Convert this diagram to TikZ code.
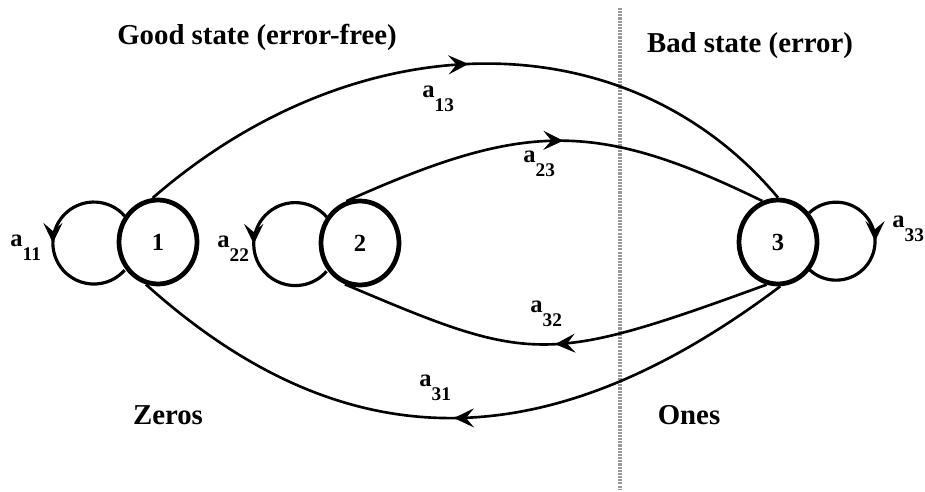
\documentclass[tikz,border=0pt]{standalone}
\usepackage{fontspec}
\setmainfont{Liberation Serif}
\usetikzlibrary{arrows.meta, decorations.markings, shapes.geometric}

\newcommand{\trn}[1]{a\raisebox{-0.28cm}{\fontsize{11}{13}\selectfont #1}}

\begin{document}
\begin{tikzpicture}[x=0.02cm, y=-0.02cm,
  >={Stealth[length=0.4cm, width=0.38cm, inset=0.16cm]},
  state/.style={draw, ellipse, line width=2.7pt, minimum width=1.56cm, minimum height=1.68cm, inner sep=0pt, font=\fontsize{14}{16}\selectfont\bfseries},
  selfloop/.style={line width=1.8pt},
  trans/.style={line width=1.5pt},
  mid/.style={postaction={decorate}, decoration={markings, mark=at position #1 with {\arrow{>}}}},
  lab/.style={anchor=base west, inner sep=0pt, font=\fontsize{14}{16}\selectfont\bfseries},
  heading/.style={anchor=base, inner sep=0pt, font=\fontsize{16.4}{20}\selectfont\bfseries},
  divider/.style={draw=gray!80, line width=2pt, dash pattern=on 1.2pt off 0.6pt}]
\useasboundingbox (0,0) rectangle (925,492);

% divider between the two regions
\coordinate (divtop) at (620,8);
\coordinate (divbot) at (620,489);
\draw[divider] (divtop) -- (divbot);

% states
\node[state] (n1) at (158,242) {1};
\node[state] (n2) at (360,243) {2};
\node[state] (n3) at (778,242) {3};

% self loops
\draw[selfloop, mid=0.5] (n1.142) arc[start angle=-41.5, end angle=-318.5, radius=41];
\draw[selfloop, mid=0.5] (n2.142) arc[start angle=-41, end angle=-319, radius=41.5];
\draw[selfloop, mid=0.5] (n3.43) arc[start angle=-133.5, end angle=133.5, radius=39];

% transitions
\draw[trans, mid=0.5] (n1.97) .. controls +(206,-179) and +(-150,-179) .. (n3.90);
\draw[trans, mid=0.52] (n2.108) .. controls +(177,-79) and +(-168,-82) .. (n3.111);
\draw[trans, mid=0.5] (n3.255) .. controls +(-222,81) and +(186,79) .. (n2.250);
\draw[trans, mid=0.51] (n3.273) .. controls +(-235,177) and +(197,177) .. (n1.254);

% labels
\node[lab] (l11) at (10,247) {\trn{11}};
\node[lab] (l22) at (217,248) {\trn{22}};
\node[lab] (l33) at (892,228) {\trn{33}};
\node[lab] (l13) at (422,98) {\trn{13}};
\node[lab] (l23) at (523,163) {\trn{23}};
\node[lab] (l32) at (530,313) {\trn{32}};
\node[lab] (l31) at (419,387) {\trn{31}};

\node[heading] (good) at (257,45) {Good state (error-free)};
\node[heading] (bad) at (750,53) {Bad state (error)};
\node[heading] (zeros) at (168,425) {Zeros};
\node[heading] (ones) at (689,425) {Ones};
\end{tikzpicture}
\end{document}
